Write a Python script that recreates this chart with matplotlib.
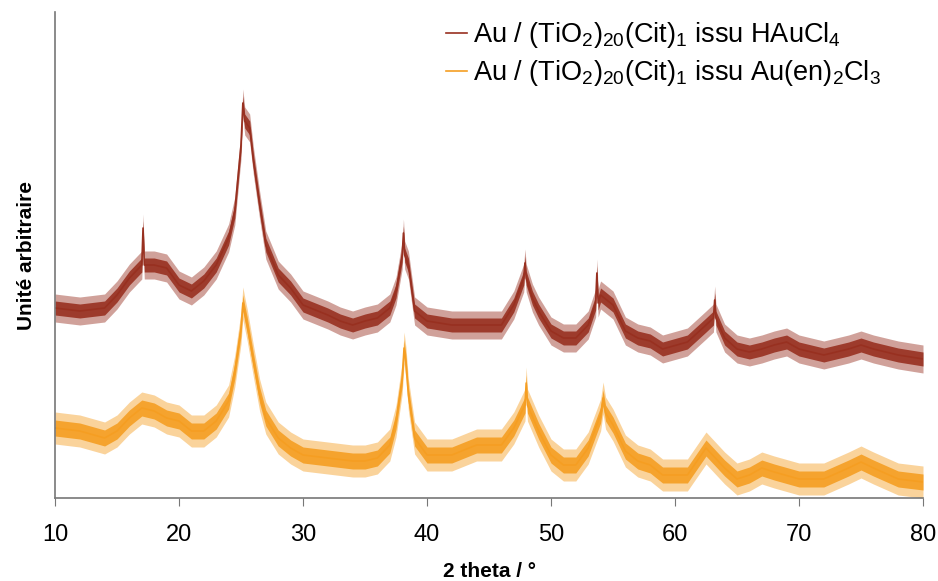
import numpy as np
import matplotlib.pyplot as plt

# 2 theta positions (deg) and intensities (arbitrary units)
theta_red = [10, 12, 14, 15, 16, 17, 17.1, 17.2, 18, 19, 20, 21, 22, 23, 24, 24.5,
             25, 25.15, 25.3, 25.7, 26, 26.5, 27, 28, 29, 30, 32, 33, 34, 35, 36, 37,
             37.5, 38, 38.1, 38.2, 38.5, 39, 40, 42, 44, 46, 47, 47.8, 47.9, 48, 48.5,
             49, 50, 51, 52, 53, 53.6, 53.7, 53.8, 54, 55, 56, 57, 58, 59, 61, 62.5,
             63.1, 63.2, 63.3, 64, 65, 66, 67, 68, 69, 70, 72, 74, 75, 76, 78, 80]
red = [190, 187, 190, 203, 220, 233, 270, 233, 233, 230, 213, 207, 217, 233, 260, 287,
       353, 395, 377, 370, 337, 293, 253, 223, 210, 193, 183, 177, 173, 177, 180, 190,
       207, 243, 265, 243, 233, 187, 177, 173, 173, 173, 193, 220, 235, 220, 200,
       187, 167, 160, 160, 173, 195, 225, 195, 203, 193, 167, 160, 157, 149, 156, 173,
       180, 198, 180, 160, 149, 146, 149, 153, 156, 149, 143, 149, 153, 149, 143, 139]

theta_orange = [10, 12, 14, 15, 16, 17, 18, 19, 20, 21, 22, 23, 24, 24.5, 25, 25.15,
                25.3, 25.5, 26, 26.5, 27, 28, 29, 30, 32, 34, 35, 36, 37, 37.5, 38,
                38.15, 38.3, 38.5, 39, 40, 42, 44, 46, 47, 47.9, 48, 48.1, 49, 50, 51,
                52, 53, 54, 54.2, 54.4, 55, 56, 57, 58, 59, 61, 62.5, 64, 65, 66, 67,
                68, 70, 72, 74, 75, 76, 78, 80]
orange = [70, 67, 60, 67, 80, 90, 87, 80, 77, 67, 67, 77, 97, 127, 170, 195,
          185, 173, 137, 103, 80, 60, 50, 43, 40, 37, 37, 40, 53, 77, 120,
          150, 135, 103, 60, 43, 43, 53, 53, 70, 93, 115, 93, 67, 43, 33,
          33, 50, 83, 100, 85, 73, 47, 37, 33, 23, 23, 50, 30, 19, 23, 30,
          26, 19, 19, 30, 36, 30, 19, 16]

# half-widths of the noise band seen around each trace (dense core, outer spikes)
noise_red = [7, 14]
noise_orange = [8, 16]

labels = ["Au / (TiO$_2$)$_{20}$(Cit)$_1$ issu HAuCl$_4$",
          "Au / (TiO$_2$)$_{20}$(Cit)$_1$ issu Au(en)$_2$Cl$_3$"]
colors = ["#983020", "#F59E22"]

plt.rcParams['font.family'] = ['Liberation Sans', 'DejaVu Sans']
plt.rcParams['mathtext.fontset'] = 'custom'
plt.rcParams['mathtext.rm'] = 'Liberation Sans'
plt.rcParams['mathtext.it'] = 'Liberation Sans'

fig = plt.figure(figsize=(9.38, 5.81), dpi=100)
ax = fig.add_axes([55 / 938, 83 / 581, 868 / 938, 486 / 581])

series = [(theta_red, red, noise_red), (theta_orange, orange, noise_orange)]
for (th, y, nz), c, lab in zip(series, colors, labels):
    th = np.array(th)
    y = np.array(y)
    ax.fill_between(th, y - nz[1], y + nz[1], color=c, lw=0, alpha=0.45)
    ax.fill_between(th, y - nz[0], y + nz[0], color=c, lw=0, alpha=0.9)
    ax.plot(th, y, color=c, lw=1.2, label=lab)

ax.set_xlim(10, 80)
ax.set_ylim(0, 486)
ax.set_xticks(range(10, 81, 10))
ax.set_yticks([])
ax.tick_params(axis='x', direction='out', length=6, color='#777777',
               labelsize=17, pad=13)
for s in ['top', 'right']:
    ax.spines[s].set_visible(False)
for s in ['left', 'bottom']:
    ax.spines[s].set_color('#777777')
    ax.spines[s].set_linewidth(1.2)

ax.set_xlabel("2 theta / °", fontsize=15, fontweight='bold', labelpad=11)
ax.set_ylabel("Unité arbitraire", fontsize=15, fontweight='bold', labelpad=14)

leg = ax.legend(loc='upper left', bbox_to_anchor=(446 / 938, 1 - 20 / 581),
                bbox_transform=fig.transFigure, frameon=False, fontsize=19.5,
                handlelength=0.78, handletextpad=0.2, labelspacing=0.3,
                borderpad=0, borderaxespad=0)
for h in leg.get_lines():
    h.set_linewidth(1.2)

fig.savefig("out.png", dpi=100)
